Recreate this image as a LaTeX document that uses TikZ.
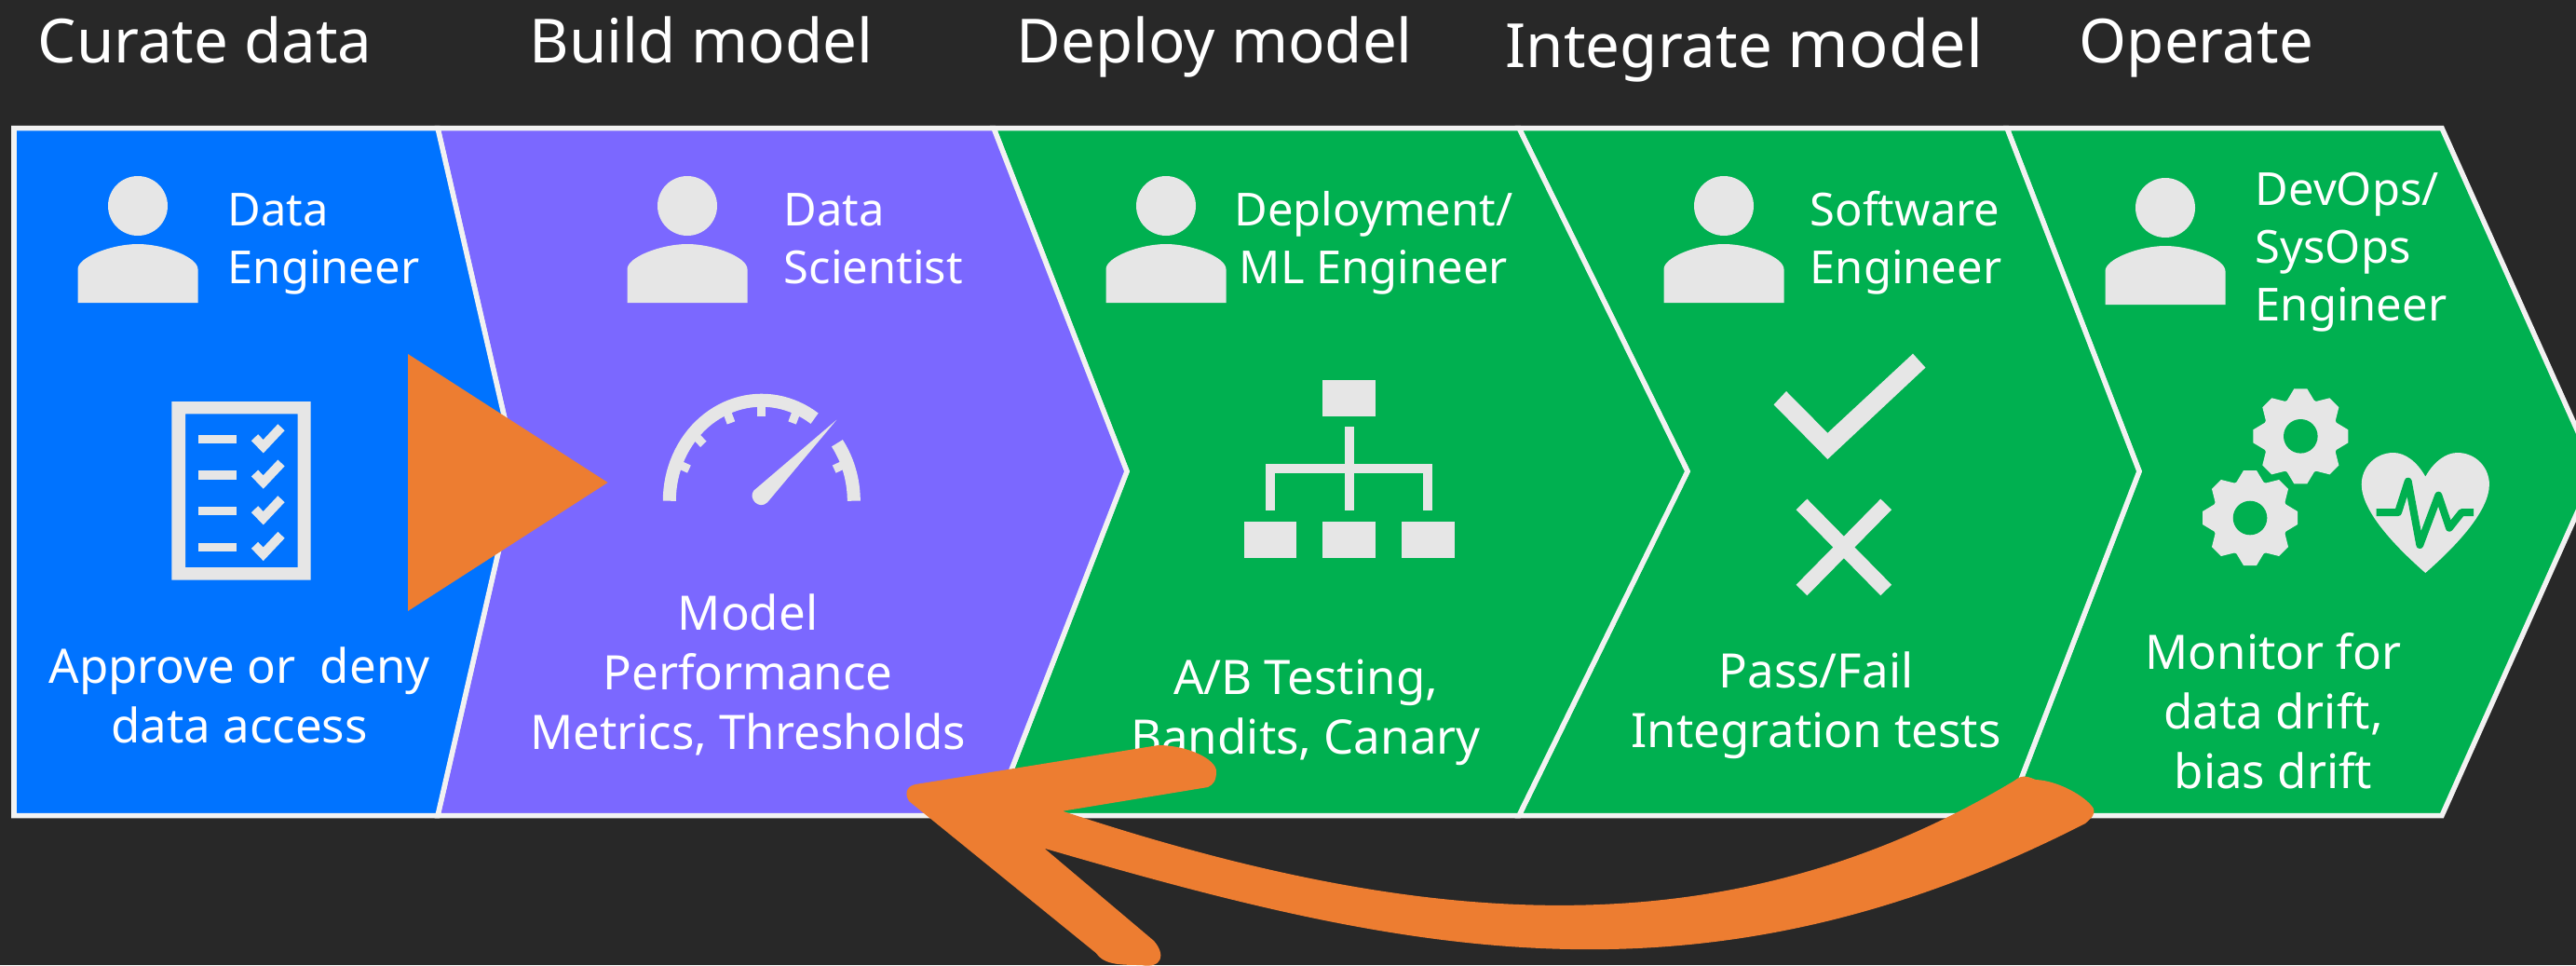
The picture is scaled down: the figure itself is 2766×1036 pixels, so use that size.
\documentclass[tikz,border=0pt]{standalone}
\usepackage{fontspec}
\setmainfont{Noto Sans}
\definecolor{bgcol}{HTML}{282828}
\definecolor{bluecol}{HTML}{0073FF}
\definecolor{purplecol}{HTML}{7B68FF}
\definecolor{greencol}{HTML}{00B050}
\definecolor{orangecol}{HTML}{ED7D31}
\definecolor{iconcol}{HTML}{E6E6E6}
\definecolor{edgecol}{HTML}{F2F2F2}
\tikzset{
  stagebox/.style={draw=edgecol, line width=0.055cm},
  headlabel/.style={anchor=base west, text=white, inner sep=0pt, font=\fontsize{18.6}{20}\selectfont},
  rolelabel/.style={anchor=base west, text=white, inner sep=0pt, align=left, font=\fontsize{13.9}{17.6}\selectfont},
  notelabel/.style={anchor=base, text=white, inner sep=0pt, align=center, font=\fontsize{14.5}{18.1}\selectfont},
  person/.pic={
    \fill[iconcol] (0,0) circle[radius=32];
    \fill[iconcol] (-64.5,104) -- (-64.5,68) .. controls (-64.5,55) and (-28,41) .. (0,41)
      .. controls (28,41) and (64.5,55) .. (64.5,68) -- (64.5,104) -- cycle;
  },
  gear/.pic={
    \fill[iconcol] (0,0) circle[radius=41];
    \foreach \aa in {0,45,...,315}
      \fill[iconcol,rotate=\aa] (-16,-36) -- (-7,-51) -- (7,-51) -- (16,-36) -- cycle;
    \fill[greencol] (0,0) circle[radius=18.3];
  },
}
\begin{document}
\begin{tikzpicture}[x=0.01cm,y=-0.01cm]
  \useasboundingbox (0,0) rectangle (2766,1036);
  \clip (0,0) rectangle (2766,1036);
  \fill[bgcol] (0,0) rectangle (2766,1036);
  % headings
  \node[headlabel] (curate) at (40,67) {Curate data};
  \node[headlabel] (build) at (568,67) {Build model};
  \node[headlabel] (deploy) at (1091,67) {Deploy model};
  \node[headlabel] (integrate) at (1616,72) {Integrate {\fontsize{20}{20}\selectfont model}};
  \node[headlabel] (operate) at (2232,67) {Operate};
  % stages
  \draw[stagebox,fill=greencol] (2155,137.5) -- (2622,137.5) -- (2787,506) -- (2622,875.5) -- (2155,875.5) -- (2297,506) -- cycle;
  \draw[stagebox,fill=greencol] (1631,137.5) -- (2155,137.5) -- (2297,506) -- (2155,875.5) -- (1631,875.5) -- (1812,506) -- cycle;
  \draw[stagebox,fill=greencol] (1067,137.5) -- (1631,137.5) -- (1812,506) -- (1631,875.5) -- (1067,875.5) -- (1210,506) -- cycle;
  \draw[stagebox,fill=purplecol] (470,137.5) -- (1067,137.5) -- (1210,506) -- (1067,875.5) -- (470,875.5) -- (555,506) -- cycle;
  \draw[stagebox,fill=bluecol] (15,137.5) -- (470,137.5) -- (555,506) -- (470,875.5) -- (15,875.5) -- cycle;
  % people
  \foreach \px in {148,738,1252,1851}
    \pic at (\px,221) {person};
  \pic at (2325,223) {person};
  % roles
  \node[rolelabel] (role1) at (244,304) {Data\\Engineer};
  \node[rolelabel] (role2) at (841,304) {Data\\Scientist};
  \node[rolelabel,align=center,anchor=base] (role3) at (1475,304) {Deployment/\\ML Engineer};
  \node[rolelabel] (role4) at (1943,304) {Software\\Engineer};
  \node[rolelabel] (role5) at (2421,344) {DevOps/\\SysOps\\Engineer};
  % checklist
  \fill[iconcol,even odd rule] (184.3,431) rectangle (333.7,622.7) (199,444.3) rectangle (319.7,609);
  \foreach \qq in {471.7,510,548.7,587.3}
   {
    \fill[iconcol] (213.3,\qq-4.7) rectangle (254.3,\qq+4.7);
    \draw[iconcol,line width=0.1cm] (273.5,\qq-2) -- (282.7,\qq+7.5) -- (302,\qq-13);
   }
  % gauge
  \begin{scope}[shift={(817.8,537.7)},every path/.style={iconcol,line width=0.14cm}]
    \draw[domain=180:55,samples=40] plot ({99*cos(\x)},{-108*sin(\x)});
    \draw[domain=35:0,samples=20] plot ({99*cos(\x)},{-108*sin(\x)});
    \foreach \aa in {158,138,113,90,67,22}
      \draw[line width=0.09cm] ({99*cos(\aa)},{-108*sin(\aa)}) -- ({84*cos(\aa)},{-91*sin(\aa)});
  \end{scope}
  \fill[iconcol] (898.3,450.7) -- (809.3,526.7) .. controls (803,535) and (815,548) .. (824,539.3) -- cycle;
  % org chart
  \fill[iconcol] (1420,407.6) rectangle (1477,446.9);
  \foreach \qq in {1335.6,1420,1505}
    \fill[iconcol] (\qq,560.3) rectangle (\qq+56.5,599);
  \draw[iconcol,line width=0.1cm] (1448.5,458) -- (1448.5,548);
  \draw[iconcol,line width=0.1cm] (1364,548) -- (1364,503) -- (1533,503) -- (1533,548);
  % pass and fail
  \fill[iconcol] (1904.6,434.4) -- (1918,420) -- (1962.4,464.8) -- (2054,379.7) -- (2067.5,394.6) -- (1962.4,493) -- cycle;
  \draw[iconcol,line width=0.165cm] (1934.5,541.4) -- (2025.2,633.5);
  \draw[iconcol,line width=0.165cm] (2025.2,541.4) -- (1934.5,633.5);
  % gears and heart
  \pic at (2470.3,468.3) {gear};
  \pic at (2416,556) {gear};
  \fill[iconcol] (2604.3,511.7) .. controls (2595,495) and (2582,486) .. (2570,486)
    .. controls (2550,486) and (2535.7,502) .. (2535.7,520)
    .. controls (2535.7,548) and (2570,585) .. (2604.3,615)
    .. controls (2638.6,585) and (2672.9,548) .. (2672.9,520)
    .. controls (2672.9,502) and (2658.6,486) .. (2638.6,486)
    .. controls (2626.6,486) and (2613.6,495) .. (2604.3,511.7) -- cycle;
  \draw[greencol,line width=0.08cm,line join=round] (2551.7,550) -- (2575,550) -- (2585.7,516.7)
    -- (2598.3,585) -- (2618.3,531.7) -- (2630,566.7) -- (2643.3,550) -- (2656,550);
  % notes
  \node[notelabel] (note1) at (257,797.6) {Approve or\ \ deny\\data access};
  \node[notelabel] (note2) at (803,804) {Model\\Performance\\Metrics, Thresholds};
  \node[notelabel] (note3) at (1402,809) {A/B Testing,\\Bandits, Canary};
  \node[notelabel] (note4) at (1950,802.6) {Pass/Fail\\Integration tests};
  \node[notelabel] (note5) at (2441,846) {Monitor for\\data drift,\\bias drift};
  % orange marks
  \fill[orangecol] (438,380) -- (652.6,518) -- (438,656) -- cycle;
  \fill[orangecol] (984.8,841.7) -- (1243.8,800) .. controls (1275,800) and (1306,815) .. (1306,828)
    .. controls (1306,838) and (1303,842) .. (1297,845) -- (1141,870.7)
    .. controls (1526,998) and (1853,1024) .. (2163,838)
    .. controls (2172,830) and (2180,835) .. (2186,837)
    .. controls (2210,838) and (2240,855) .. (2248,868)
    .. controls (2250,874) and (2246,878) .. (2239,884)
    .. controls (1826,1095) and (1507,1023) .. (1121.4,910.7)
    -- (1239,1010) .. controls (1252,1025) and (1248,1040) .. (1225,1036)
    .. controls (1200,1036) and (1185,1035) .. (1176.8,1023) -- (976,860)
    .. controls (970,850) and (975,843) .. (984.8,841.7) -- cycle;
\end{tikzpicture}
\end{document}
